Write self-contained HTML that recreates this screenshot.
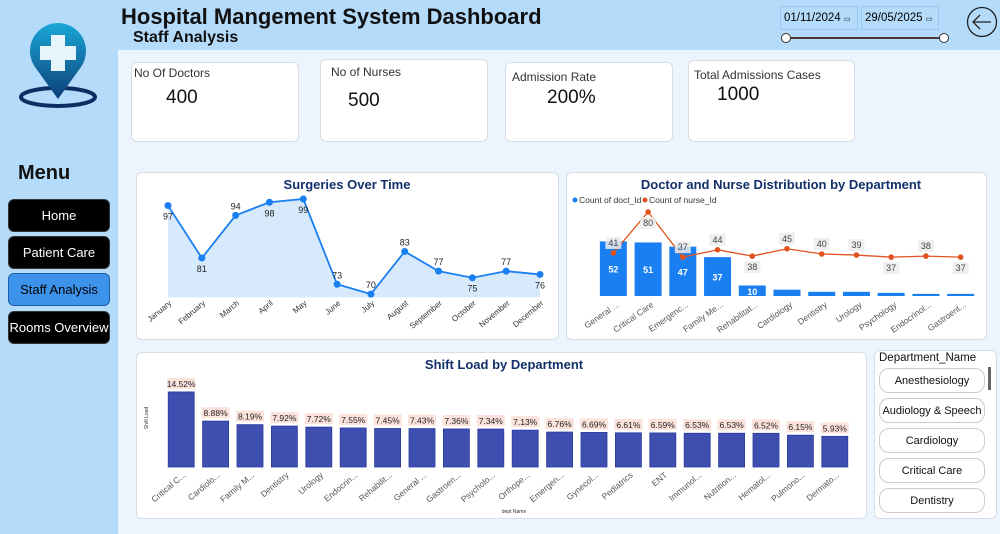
<!DOCTYPE html>
<html><head><meta charset="utf-8"><style>
*{margin:0;padding:0;box-sizing:border-box}
body{width:1000px;height:534px;overflow:hidden;background:#ecf5fe;font-family:"Liberation Sans",sans-serif;position:relative}
.abs{position:absolute}
.card{position:absolute;background:#fff;border:1px solid #d6dde6;border-radius:6px}
.kt{position:absolute;font-size:12px;color:#333}
.kv{position:absolute;font-size:19px;color:#111}
.btn{position:absolute;left:8px;width:102px;height:33px;border-radius:6px;background:#000;color:#fff;font-size:13px;display:flex;align-items:center;justify-content:center;border:1px solid #333}
.sl{position:absolute;left:879px;width:106px;height:25px;border:1px solid #ccc;border-radius:10px;background:#fff;font-size:11px;display:flex;align-items:center;justify-content:center;color:#111;white-space:nowrap}
.di{position:absolute;top:6px;width:78px;height:24px;border:1px solid #9cc6ea;font-size:11.5px;padding:5px 3px;white-space:nowrap}
</style></head><body>
<div class="abs" style="left:0;top:0;width:118px;height:534px;background:#b5dbfb"></div>
<div class="abs" style="left:118px;top:0;width:882px;height:50px;background:#b5dbfb"></div>
<svg class="abs" style="left:17px;top:15px" width="80" height="95" viewBox="0 0 80 95">
<defs><linearGradient id="g" x1="0" y1="0" x2="0" y2="1"><stop offset="0" stop-color="#1aa7d8"/><stop offset="1" stop-color="#0c3f78"/></linearGradient></defs>
<ellipse cx="41" cy="82" rx="37" ry="9" fill="none" stroke="#0c2f63" stroke-width="4"/>
<path d="M41 84 L18 52 A28 28 0 1 1 64 52 Z" fill="url(#g)"/>
<path d="M34 20h14v11h11v14H48v11H34V45H23V31h11z" fill="#e8f4fb"/>
</svg>
<div class="abs" style="left:18px;top:162px;font-size:20px;font-weight:bold;color:#111">Menu</div>
<div class="btn" style="top:199px">Home</div>
<div class="btn" style="top:236px">Patient Care</div>
<div class="btn" style="top:273px;background:#3d93ea;color:#000;border-color:#1b5ea8">Staff Analysis</div>
<div class="btn" style="top:311px">Rooms Overview</div>
<div class="abs" style="left:121px;top:4px;font-size:22px;font-weight:bold;color:#111">Hospital Mangement System Dashboard</div>
<div class="abs" style="left:133px;top:29px;font-size:16px;font-weight:bold;color:#111">Staff Analysis</div>
<div class="di" style="left:780px">01/11/2024 <span style="font-size:7px">▭</span></div>
<div class="di" style="left:861px">29/05/2025 <span style="font-size:7px">▭</span></div>
<div class="abs" style="left:786px;top:37px;width:158px;height:2px;background:#4a3a30"></div>
<div class="abs" style="left:781px;top:33px;width:10px;height:10px;border-radius:50%;background:#fff;border:1px solid #333"></div>
<div class="abs" style="left:939px;top:33px;width:10px;height:10px;border-radius:50%;background:#fff;border:1px solid #333"></div>
<svg class="abs" style="left:966px;top:6px" width="32" height="32"><circle cx="16" cy="16" r="14.5" fill="none" stroke="#222" stroke-width="1.3"/><path d="M25 16H8M14 9l-7 7 7 7" fill="none" stroke="#222" stroke-width="1.3"/></svg>

<div class="card" style="left:131px;top:62px;width:168px;height:80px"><div class="kt" style="left:2px;top:3px">No Of Doctors</div><div class="kv" style="left:34px;top:24px">400</div></div>
<div class="card" style="left:320px;top:59px;width:168px;height:83px"><div class="kt" style="left:10px;top:5px">No of Nurses</div><div class="kv" style="left:27px;top:30px">500</div></div>
<div class="card" style="left:505px;top:62px;width:168px;height:80px"><div class="kt" style="left:6px;top:7px">Admission Rate</div><div class="kv" style="left:41px;top:24px">200%</div></div>
<div class="card" style="left:688px;top:60px;width:167px;height:82px"><div class="kt" style="left:5px;top:7px">Total Admissions Cases</div><div class="kv" style="left:28px;top:23px">1000</div></div>

<div class="card" style="left:136px;top:172px;width:423px;height:168px"></div>
<div class="card" style="left:566px;top:172px;width:421px;height:168px"></div>
<div class="card" style="left:136px;top:352px;width:731px;height:167px"></div>
<div class="card" style="left:874px;top:350px;width:123px;height:169px"></div>
<div class="abs" style="left:879px;top:352px;font-size:11.5px;color:#111">Department_Name</div>
<div class="abs" style="left:988px;top:367px;width:3px;height:23px;background:#666"></div>
<div class="sl" style="top:368px">Anesthesiology</div>
<div class="sl" style="top:398px">Audiology &amp; Speech</div>
<div class="sl" style="top:428px">Cardiology</div>
<div class="sl" style="top:458px">Critical Care</div>
<div class="sl" style="top:488px">Dentistry</div>

<svg id="charts" class="abs" style="left:0;top:0" width="1000" height="534" font-family="Liberation Sans, sans-serif"></svg>
<script>
const months=["January","February","March","April","May","June","July","August","September","October","November","December"];
const surgeries=[97,81,94,98,99,73,70,83,77,75,77,76];
const depts=["General ...","Critical Care","Emergenc...","Family Me...","Rehabilitat...","Cardiology","Dentistry","Urology","Psychology","Endocrinol...","Gastroent..."];
const doctors=[52,51,47,37,10,6,4,4,3,2,2];
const nurses=[41,80,37,44,38,45,40,39,37,38,37];
const shiftDepts=["Critical C...","Cardiolo...","Family M...","Dentistry","Urology","Endocrin...","Rehabilit...","General ...","Gastroen...","Psycholo...","Orthope...","Emergen...","Gynecol...","Pediatrics","ENT","Immunol...","Nutrition...","Hematol...","Pulmono...","Dermato..."];
const shiftLoad=[14.52,8.88,8.19,7.92,7.72,7.55,7.45,7.43,7.36,7.34,7.13,6.76,6.69,6.61,6.59,6.53,6.53,6.52,6.15,5.93];

const svg=document.getElementById('charts');const NS='http://www.w3.org/2000/svg';
function mk(t,a,txt){const e=document.createElementNS(NS,t);for(const k in a)e.setAttribute(k,a[k]);if(txt!==undefined)e.textContent=txt;svg.appendChild(e);return e;}
let e;
e=mk('text',{x:347,y:189,'text-anchor':'middle','font-size':13,'font-weight':'bold',fill:'#12306a'},'Surgeries Over Time');


const sx=i=>168+i*(540-168)/(months.length-1);
const sy=v=>199+(99-v)*3.28;
let pts=surgeries.map((v,i)=>sx(i)+','+sy(v)).join(' ');
e=mk('polygon',{points:sx(0)+','+sy(69)+' '+pts+' '+sx(11)+','+sy(69),fill:'#d7eafb'});


e=mk('polyline',{points:pts,fill:'none',stroke:'#1a7ff0','stroke-width':1.8});


const below=[1,1,0,1,1,0,0,0,0,1,0,1];
surgeries.forEach((v,i)=>{
 e=mk('circle',{cx:sx(i),cy:sy(v),r:3.5,fill:'#1a7ff0'});
 
 
 e=mk('text',{x:sx(i),y:below[i]?sy(v)+14:sy(v)-6,'text-anchor':'middle','font-size':9,fill:'#222'},v);
 
 
 e=mk('text',{x:sx(i)+4,y:304,'text-anchor':'end','font-size':8,fill:'#333',transform:`rotate(-40 ${sx(i)+4} 304)`},months[i]);
 
 
});
e=mk('text',{x:781,y:189,'text-anchor':'middle','font-size':13,'font-weight':'bold',fill:'#12306a'},'Doctor and Nurse Distribution by Department');


e=mk('circle',{cx:575,cy:200,r:2.5,fill:'#1a7ff0'});


e=mk('text',{x:579,y:203,'font-size':8.5,fill:'#333'},'Count of doct_Id');


e=mk('circle',{cx:645,cy:200,r:2.5,fill:'#e0531e'});


e=mk('text',{x:649,y:203,'font-size':8.5,fill:'#333'},'Count of nurse_Id');


const bw=(978-596)/depts.length;
const dx=i=>596+i*bw+bw/2;
const dy=v=>296-v*1.05;
doctors.forEach((v,i)=>{
 e=mk('rect',{x:dx(i)-13.5,y:dy(v),width:27,height:296-dy(v),fill:'#1a7ff0'});
 
 
 if(v>=10){e=mk('text',{x:dx(i),y:dy(v)+(296-dy(v))/2+4,'text-anchor':'middle','font-size':9,'font-weight':'bold',fill:'#fff'},v);
 
 }
 e=mk('text',{x:dx(i)+6,y:306,'text-anchor':'end','font-size':8.5,fill:'#555',transform:`rotate(-35 ${dx(i)+6} 306)`},depts[i]);
 
 
});
e=mk('polyline',{points:nurses.map((v,i)=>dx(i)+','+dy(v)).join(' '),fill:'none',stroke:'#e0531e','stroke-width':1.3});


const nb=[0,1,0,0,1,0,0,0,1,0,1];
nurses.forEach((v,i)=>{
 e=mk('circle',{cx:dx(i),cy:dy(v),r:2.8,fill:'#e0531e'});
 
 
 const ly=nb[i]?dy(v)+14:dy(v)-7;
 e=mk('rect',{x:dx(i)-8,y:ly-9,width:16,height:12,fill:'#ececec',opacity:.85});
 
 
 e=mk('text',{x:dx(i),y:ly,'text-anchor':'middle','font-size':9,fill:'#444'},v);
 
 
});
e=mk('text',{x:504,y:369,'text-anchor':'middle','font-size':13,'font-weight':'bold',fill:'#12306a'},'Shift Load by Department');


e=mk('text',{x:148,y:418,'text-anchor':'middle','font-size':5,fill:'#333',transform:'rotate(-90 148 418)'},'Shift Load');


e=mk('text',{x:514,y:513,'text-anchor':'middle','font-size':5,fill:'#333'},'dept Name');


const step=(852-164)/shiftDepts.length;
const hx=i=>164+i*step+step/2;
const hy=v=>467-v*5.17;
shiftLoad.forEach((v,i)=>{
 e=mk('rect',{x:hx(i)-13,y:hy(v),width:26,height:467-hy(v),fill:'#3f4fb0',stroke:'#2a38a0','stroke-width':.8});
 
 
 e=mk('rect',{x:hx(i)-14,y:hy(v)-14,width:28,height:11,fill:'#fbe3dc'});
 
 
 e=mk('text',{x:hx(i),y:hy(v)-5,'text-anchor':'middle','font-size':8.5,fill:'#222'},v.toFixed(2)+'%');
 
 
 e=mk('text',{x:hx(i)+5,y:476,'text-anchor':'end','font-size':8.5,fill:'#555',transform:`rotate(-40 ${hx(i)+5} 476)`},shiftDepts[i]);
 
 
});
</script>
</body></html>
